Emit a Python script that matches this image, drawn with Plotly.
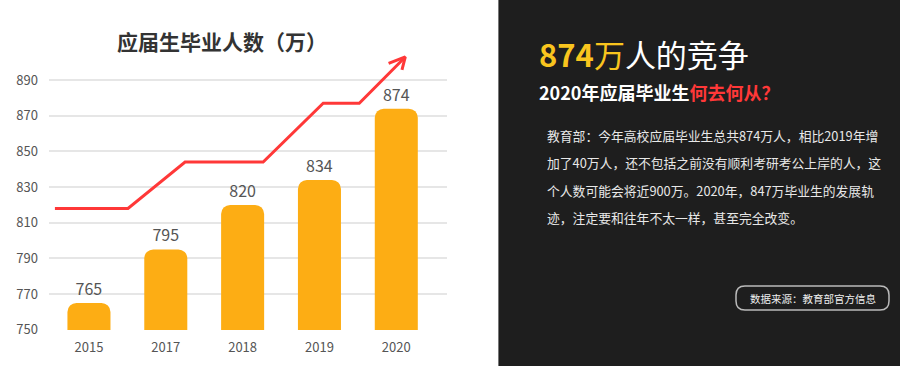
import plotly.graph_objects as go

# ---- data ----
years = ["2015", "2017", "2018", "2019", "2020"]
graduates = [765, 795, 820, 834, 874]
y_ticks = [750, 770, 790, 810, 830, 850, 870, 890]

# decorative trend arrow (category-index units, value units)
trend_x = [-0.443, 0.508, 1.251, 2.267, 3.049, 3.518, 4.117]
trend_y = [818, 818, 844, 844, 877, 877, 903]
head_x = [3.900, 4.117, 4.074]
head_y = [899.4, 903.1, 895.7]

chart_title = "应届生毕业人数（万）"
headline_num = "874"
headline_rest = "人的竞争"
sub_white = "2020年应届毕业生"
sub_red = "何去何从？"
body_lines = [
    "教育部：今年高校应届毕业生总共874万人，相比2019年增",
    "加了40万人，还不包括之前没有顺利考研考公上岸的人，这",
    "个人数可能会将近900万。2020年，847万毕业生的发展轨",
    "迹，注定要和往年不太一样，甚至完全改变。",
]
source_text = "数据来源：教育部官方信息"

W, H = 900, 366
FONT = "Noto Sans CJK SC, Noto Sans, sans-serif"
BAR = "#FDAD14"
RED = "#FF3838"
YEL = "#F9C51E"

x_idx = list(range(len(years)))

fig = go.Figure()
fig.add_trace(go.Bar(
    x=x_idx, y=graduates, width=0.56,
    marker=dict(color=BAR, line=dict(width=0), cornerradius=9),
    text=[str(v) for v in graduates], textposition="outside",
    textfont=dict(size=16, color="#555555", family=FONT),
    cliponaxis=False, hoverinfo="skip",
))
fig.add_trace(go.Scatter(
    x=trend_x + [None] + head_x, y=trend_y + [None] + head_y,
    mode="lines", line=dict(color=RED, width=3), cliponaxis=False,
    hoverinfo="skip",
))

def px(x):
    return x / W

def py(y):
    return 1 - y / H

fig.update_layout(
    width=W, height=H, autosize=False,
    margin=dict(l=0, r=0, t=0, b=0, pad=0),
    paper_bgcolor="white", plot_bgcolor="white",
    showlegend=False,
    font=dict(family=FONT, color="#555555", size=13),
    xaxis=dict(
        domain=[px(49), px(447)], range=[-0.52, 4.66], automargin=False,
        tickmode="array", tickvals=x_idx, ticktext=years,
        showgrid=False, zeroline=False, showline=False,
        ticks="", ticklabelstandoff=8,
        tickfont=dict(size=13, color="#555555"),
    ),
    yaxis=dict(
        domain=[py(330), py(50)], range=[749.8, 906.9], automargin=False,
        tickmode="array", tickvals=y_ticks,
        showgrid=True, gridcolor="#E6E6E6", gridwidth=1.5,
        zeroline=False, showline=False, ticks="", ticklabelstandoff=10,
        tickfont=dict(size=13, color="#555555"),
    ),
)

shapes = [
    dict(type="rect", xref="paper", yref="paper", x0=px(498), x1=1, y0=0, y1=1,
         fillcolor="#1E1E1E", line=dict(width=0), layer="below"),
    dict(type="line", xref="paper", yref="paper", x0=px(498.5), x1=px(498.5), y0=0, y1=1,
         line=dict(color="#777777", width=1)),
]
# rounded source box
bx0, bx1, by0, by1, r = 736, 889, 286, 310, 9
rx, ry = r / W, r / H
x0, x1, y0, y1 = px(bx0), px(bx1), py(by1), py(by0)
path = (f"M {x0+rx},{y0} L {x1-rx},{y0} Q {x1},{y0} {x1},{y0+ry} "
        f"L {x1},{y1-ry} Q {x1},{y1} {x1-rx},{y1} L {x0+rx},{y1} "
        f"Q {x0},{y1} {x0},{y1-ry} L {x0},{y0+ry} Q {x0},{y0} {x0+rx},{y0} Z")
shapes.append(dict(type="path", xref="paper", yref="paper", path=path,
                   line=dict(color="#BBBBBB", width=1.5)))
fig.update_layout(shapes=shapes)

ann = [
    dict(text=f"<b>{chart_title}</b>", x=px(222), y=py(41), xanchor="center", yanchor="middle",
         font=dict(size=21, color="#333333")),
    dict(text=(f"<span style='color:{YEL}'><b>{headline_num}</b>万</span>{headline_rest}"),
         x=px(537), y=py(54), xanchor="left", yanchor="middle",
         font=dict(size=31, color="#FFFFFF")),
    dict(text=f"<b>{sub_white}<span style='color:{RED}'>{sub_red}</span></b>",
         x=px(537), y=py(92), xanchor="left", yanchor="middle",
         font=dict(size=18, color="#FFFFFF")),
    dict(text=source_text, x=px(812.5), y=py(298), xanchor="center", yanchor="middle",
         font=dict(size=10.5, color="#EEEEEE")),
]
line_y = [135, 163, 190.5, 217.5]
for t, yy in zip(body_lines, line_y):
    ann.append(dict(text=t, x=px(545), y=py(yy), xanchor="left", yanchor="middle",
                    font=dict(size=12.8, color="#E8E8E8")))
for a in ann:
    a.update(xref="paper", yref="paper", showarrow=False)
fig.update_layout(annotations=ann)

fig.write_html("out.html", config={"displayModeBar": False, "responsive": False},
               post_script="document.body.style.margin='0';document.body.style.overflow='hidden';")
